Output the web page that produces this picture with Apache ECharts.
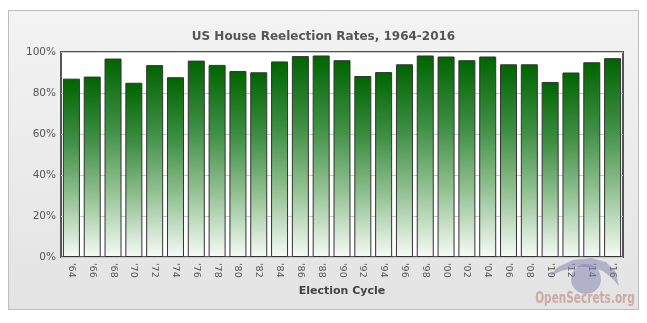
<!DOCTYPE html>
<html>
<head>
<meta charset="utf-8">
<script src="https://cdn.jsdelivr.net/npm/echarts@6/dist/echarts.min.js"></script>
<style>
  html, body { margin: 0; padding: 0; background: #fff; }
  #chart { width: 647px; height: 323px; }
</style>
</head>
<body>
<div id="chart"></div>
<script>
// Election cycles (two-digit years) and House incumbent reelection rate (%)
const cycles = ["'64","'66","'68","'70","'72","'74","'76","'78","'80","'82","'84","'86","'88","'90",
                "'92","'94","'96","'98","'00","'02","'04","'06","'08","'10","'12","'14","'16"];
const reelectionRate = [87, 88, 96.8, 85, 93.6, 87.7, 95.8, 93.7, 90.7, 90.1, 95.4, 98, 98.3, 96,
                        88.3, 90.2, 94, 98.3, 97.8, 96, 97.8, 94, 94, 85.4, 90, 95, 97];
const yTicks = [0, 20, 40, 60, 80, 100];

const chart = echarts.init(document.getElementById('chart'), null, { renderer: 'canvas' });

const fontFam = '"DejaVu Sans", Verdana, sans-serif';
const logoFill = 'rgba(125,125,175,0.5)';

chart.setOption({
  animation: false,
  backgroundColor: '#fff',
  graphic: [
    {
      type: 'rect', z: -10, silent: true,
      shape: { x: 8.5, y: 10.5, width: 630, height: 299 },
      style: {
        fill: new echarts.graphic.LinearGradient(0, 0, 0, 1, [
          { offset: 0, color: '#f3f3f3' }, { offset: 1, color: '#e3e3e3' }
        ]),
        stroke: '#bdbdbd', lineWidth: 1
      }
    },
    // OpenSecrets eye logo
    { type: 'circle', z: 1, silent: true, shape: { cx: 586, cy: 279, r: 15 }, style: { fill: logoFill } },
    { type: 'polygon', z: 1, silent: true,
      shape: { points: [[548, 277], [558, 267], [573, 260], [591, 258], [606, 262], [615, 271], [619, 286],
                        [612, 278], [603, 271], [591, 267], [576, 267], [561, 271]] },
      style: { fill: logoFill } },
    { type: 'text', z: 1, silent: true, x: 585, y: 299, scaleX: 0.78,
      style: { x: 0, y: 0, text: 'OpenSecrets.org', align: 'center', verticalAlign: 'middle',
        font: 'bold 15px "DejaVu Sans Condensed", "DejaVu Sans", sans-serif', fill: 'rgba(196,146,136,0.7)' } }
  ],
  title: {
    text: 'US House Reelection Rates, 1964-2016',
    left: 'center', top: 26,
    textStyle: { fontFamily: fontFam, fontSize: 12, fontWeight: 'bold', color: '#555' }
  },
  grid: {
    left: 61, top: 52, right: 24, bottom: 66,
    show: true, backgroundColor: '#fff', borderColor: '#555', borderWidth: 2
  },
  xAxis: {
    type: 'category',
    data: cycles,
    name: 'Election Cycle',
    nameLocation: 'middle',
    nameGap: 28,
    nameTextStyle: { fontFamily: fontFam, fontSize: 11, fontWeight: 'bold', color: '#444' },
    axisLine: { show: false },
    axisTick: { show: false },
    axisLabel: { rotate: -90, interval: 0, margin: 6, fontFamily: fontFam, fontSize: 9.5, color: '#555' }
  },
  yAxis: {
    type: 'value',
    min: yTicks[0], max: yTicks[yTicks.length - 1], interval: 20,
    axisLine: { show: false },
    axisTick: { show: false },
    axisLabel: { formatter: '{value}%', margin: 5, fontFamily: fontFam, fontSize: 10.5, color: '#555' },
    splitLine: { lineStyle: { color: '#c8c8c8', width: 1 } }
  },
  series: [{
    type: 'bar',
    data: reelectionRate,
    barWidth: 17,
    itemStyle: {
      borderColor: '#333', borderWidth: 1,
      color: new echarts.graphic.LinearGradient(0, 0, 0, 1, [
        { offset: 0, color: '#006400' },
        { offset: 0.35, color: '#3f8f45' },
        { offset: 0.65, color: '#8fbf8f' },
        { offset: 1, color: '#f6fbf6' }
      ])
    }
  }]
});
</script>
</body>
</html>
